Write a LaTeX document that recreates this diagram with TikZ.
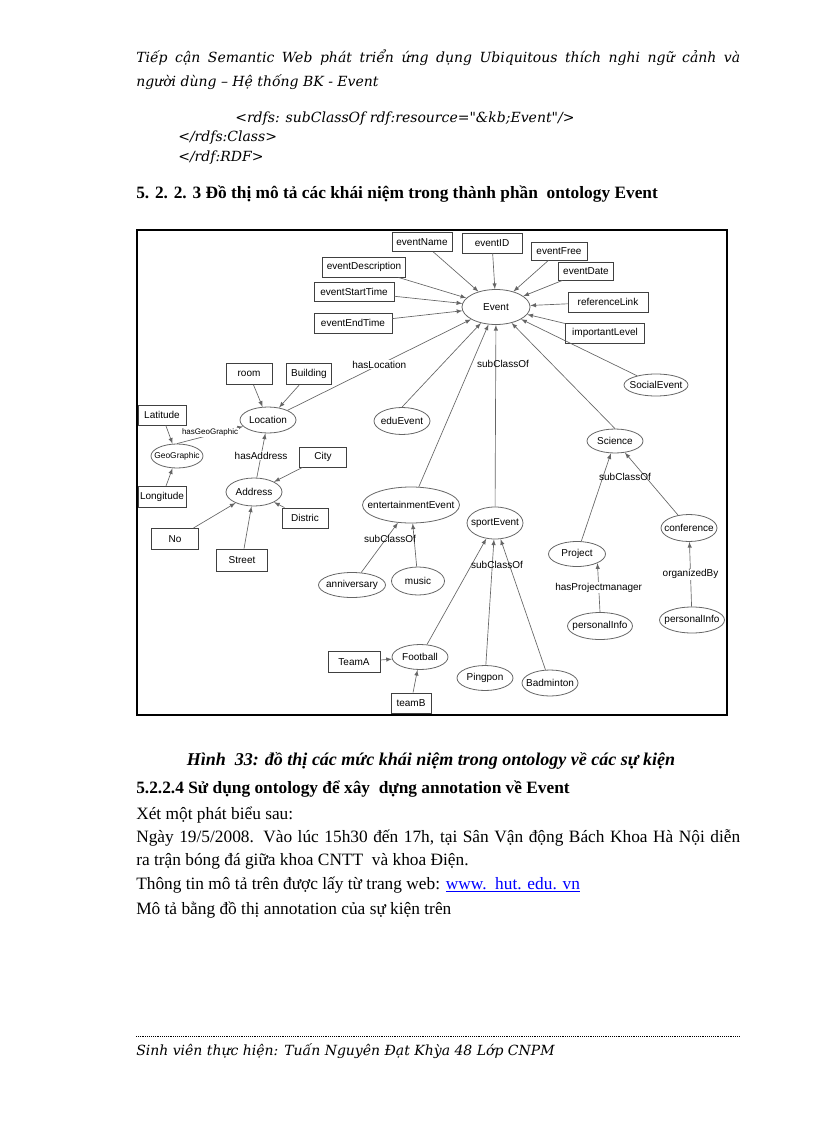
\documentclass[tikz,border=0pt]{standalone}
\usepackage{xcolor}
\usepackage{fontspec}
\setmainfont{Liberation Serif}
\setsansfont{Liberation Sans}
\newfontfamily\hdfont{DejaVu Serif}
\usepackage{tikz}
\usetikzlibrary{shapes.geometric}

\begin{document}
\begin{tikzpicture}[x=0.75pt, y=-0.75pt, >=latex,
    hd/.style={anchor=base west, inner sep=0pt, font=\hdfont\itshape\fontsize{10.5}{12}\selectfont},
    body/.style={anchor=base west, inner sep=0pt, font=\fontsize{13}{15}\selectfont},
    head/.style={body, font=\bfseries\fontsize{13}{15}\selectfont},
    box/.style={draw=black!75, line width=0.7pt, inner sep=0pt, font=\sffamily\fontsize{7.5}{9}\selectfont},
    oval/.style={ellipse, draw=black!60, line width=0.6pt, inner sep=0pt, font=\sffamily\fontsize{7.5}{9}\selectfont},
    lbl/.style={fill=white, inner sep=0.5pt, font=\sffamily\fontsize{7.5}{9}\selectfont},
    link/.style={draw=black!60, line width=0.5pt, ->}]
\useasboundingbox (0,0) rectangle (816,1123);

\node[hd] (hdA) at (136,63) {\makebox[453pt][s]{Tiếp cận Semantic Web phát triển ứng dụng Ubiquitous thích nghi ngữ cảnh và}};
\node[hd] (hdB) at (136,87) {người dùng – Hệ thống BK - Event};
\node[hd] (codeA) at (235,123) {<rdfs: subClassOf rdf:resource="\&kb;Event"/>};
\node[hd] (codeB) at (178,142) {</rdfs:Class>};
\node[hd] (codeC) at (178,162) {</rdf:RDF>};
\node[head] (secA) at (136,199) {5. 2. 2. 3 Đồ thị mô tả các khái niệm trong thành phần\ \ ontology Event};

\draw[line width=1pt] (137,230) rectangle (727,715);

% property boxes
\foreach \n/\x/\y/\w/\h/\t in {evName/422/242/60/19/eventName, evID/492/243/60/20/eventID,
    evFree/559/251/56/18/eventFree, evDate/586/271/55/18/eventDate,
    evDesc/364/267/83/20/eventDescription, evStart/354/292/80/19/eventStartTime,
    evEnd/353/323/78/20/eventEndTime, refLink/608/302/80/20/referenceLink,
    impLevel/605/333/79/20/importantLevel, room/249/374/46/21/room,
    building/309/374/45/21/Building, latitude/162/415/48/20/Latitude,
    longitude/162/497/48/21/Longitude, city/323/457/47/20/City,
    distric/305/518/46/20/Distric, no/175/539/47/21/No, street/242/560/51/22/Street,
    teamA/354/662/52/21/TeamA, teamB/411/703/40/20/teamB}
  \node[box, minimum width=\w*0.75pt, minimum height=\h*0.75pt] (\n) at (\x,\y) {\t};

% classes
\foreach \n/\x/\y/\w/\h/\t in {event/496/307/68/35/Event, social/656/385/64/22/SocialEvent,
    location/268/420/56/26/Location, eduEvent/402/421/56/27/eduEvent,
    address/254/492/56/28/Address, entEvent/411/505/97/36/entertainmentEvent,
    sportEvent/495/523/56/32/sportEvent, science/615/441/56/24/Science,
    conference/689/528/56/27/conference, project/577/554/57/25/Project,
    pinfoA/600/626/65/27/personalInfo, pinfoB/692/620/65/26/personalInfo,
    anniv/352/585/67/25/anniversary, music/418/581/53/28/music,
    football/420/657/56/25/Football, pingpon/485/678/56/25/Pingpon,
    badminton/550/683/56/26/Badminton}
  \node[oval, minimum width=\w*0.75pt, minimum height=\h*0.75pt] (\n) at (\x,\y) {\makebox[0pt]{\t}};
\node[oval, minimum width=52*0.75pt, minimum height=24*0.75pt, font=\sffamily\fontsize{6.3}{7}\selectfont] (geo) at (177,456) {\makebox[0pt]{GeoGraphic}};

\foreach \a/\b in {evName/event, evID/event, evFree/event, evDate/event, evDesc/event,
    evStart/event, evEnd/event, refLink/event, impLevel/event, social/event,
    entEvent/event, sportEvent/event, room/location, building/location,
    latitude/geo, longitude/geo, city/address, distric/address, no/address,
    street/address, anniv/entEvent, music/entEvent, football/sportEvent,
    pingpon/sportEvent, badminton/sportEvent, teamA/football, teamB/football,
    project/science, conference/science}
  \draw[link] (\a) -- (\b);
\draw[link] (eduEvent.north) -- (event);
\draw[link] (science.north) -- (event);

\draw[link] (location) -- node[lbl] (hasLoc) {hasLocation} (event);
\draw[link] (geo.north) -- node[lbl, pos=0.5, yshift=2pt, font=\sffamily\fontsize{6}{7}\selectfont] (hasGeo) {hasGeoGraphic} (location);
\draw[link] (address) -- node[lbl] (hasAddr) {hasAddress} (location);
\draw[link] (pinfoA.north) -- node[lbl] (hasPM) {hasProjectmanager} (project.south east);
\draw[link] (pinfoB) -- node[lbl] (orgBy) {organizedBy} (conference);

\node[lbl, fill=none] (subA) at (503,364) {subClassOf};
\node[lbl, fill=none] (subB) at (390,539) {subClassOf};
\node[lbl, fill=none] (subC) at (497,565) {subClassOf};
\node[lbl, fill=none] (subD) at (625,477) {subClassOf};

\node[head, anchor=base, font=\bfseries\itshape\fontsize{13.5}{15}\selectfont] (cap) at (431,765) {Hình\ \ 33: đồ thị các mức khái niệm trong ontology về các sự kiện};
\node[head] (secB) at (136,793) {5.2.2.4 Sử dụng ontology để xây\ \ dựng annotation về Event};
\node[body] (lnA) at (136,819) {Xét một phát biểu sau:};
\node[body] (lnB) at (136,842) {\makebox[453pt][s]{Ngày 19/5/2008. Vào lúc 15h30 đến 17h, tại Sân Vận động Bách Khoa Hà Nội diễn}};
\node[body] (lnC) at (136,865) {ra trận bóng đá giữa khoa CNTT\ \ và khoa Điện.};
\node[body] (lnD) at (136,889) {Thông tin mô tả trên được lấy từ trang web: \textcolor{blue}{\underline{www.\ \ hut. edu. vn}}};
\node[body] (lnE) at (136,914) {Mô tả bằng đồ thị annotation của sự kiện trên};

\draw[densely dotted, line width=0.4pt] (136,1036) -- (740,1036);
\node[hd] (foot) at (136,1055) {Sinh viên thực hiện: Tuấn Nguyên Đạt Khỳa 48 Lớp CNPM};
\end{tikzpicture}
\end{document}
